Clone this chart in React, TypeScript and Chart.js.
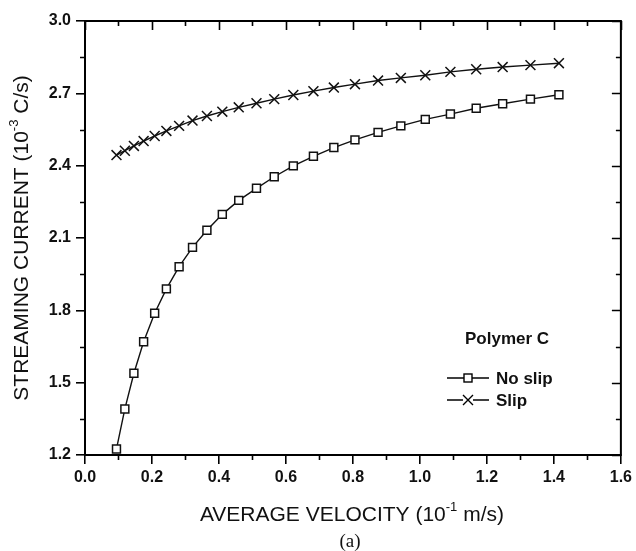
import React, { useEffect, useRef } from "react";
import { Chart, registerables } from "chart.js";

Chart.register(...registerables);

const velocity = [0.094, 0.119, 0.146, 0.175, 0.208, 0.243, 0.281, 0.321, 0.364, 0.41, 0.459, 0.512, 0.565, 0.622, 0.682, 0.743, 0.806, 0.875, 0.943, 1.016, 1.091, 1.168, 1.247, 1.33, 1.415];
const noSlip = [1.225, 1.391, 1.539, 1.67, 1.788, 1.889, 1.981, 2.061, 2.132, 2.198, 2.256, 2.306, 2.354, 2.399, 2.439, 2.475, 2.507, 2.538, 2.565, 2.592, 2.614, 2.638, 2.657, 2.676, 2.694];
const slip = [2.444, 2.462, 2.482, 2.502, 2.523, 2.544, 2.565, 2.587, 2.606, 2.624, 2.642, 2.659, 2.676, 2.693, 2.709, 2.724, 2.738, 2.753, 2.764, 2.775, 2.789, 2.8, 2.809, 2.817, 2.825];
const seriesNames = ["No slip", "Slip"];
const legendTitle = "Polymer C";
const xTitleParts: [string, boolean][] = [["AVERAGE VELOCITY (10", false], ["-1", true], [" m/s)", false]];
const yTitleParts: [string, boolean][] = [["STREAMING CURRENT (10", false], ["-3", true], [" C/s)", false]];
const panelLabel = "(a)";
const xMin = 0, xMax = 1.6, xStep = 0.2;
const yMin = 1.2, yMax = 3.0, yStep = 0.3;

const FONT = '"Liberation Sans", Arial, sans-serif';
const INK = "#111";

function drawParts(ctx: CanvasRenderingContext2D, parts: [string, boolean][], cx: number, cy: number, size: number) {
  const big = `${size}px ${FONT}`;
  const small = `${Math.round(size * 0.62)}px ${FONT}`;
  let total = 0;
  const widths = parts.map(([t, sup]) => {
    ctx.font = sup ? small : big;
    const w = ctx.measureText(t).width;
    total += w;
    return w;
  });
  let x = cx - total / 2;
  ctx.textBaseline = "middle";
  ctx.textAlign = "left";
  parts.forEach(([t, sup], i) => {
    ctx.font = sup ? small : big;
    ctx.fillText(t, x, sup ? cy - size * 0.38 : cy);
    x += widths[i];
  });
}

const decorPlugin = {
  id: "decor",
  afterDraw(chart: any) {
    const ctx: CanvasRenderingContext2D = chart.ctx;
    const { left, right, top, bottom } = chart.chartArea;
    const xs = chart.scales.x;
    const ys = chart.scales.y;
    ctx.save();
    ctx.strokeStyle = "#000";
    ctx.fillStyle = INK;
    ctx.lineWidth = 2;
    ctx.strokeRect(left, top, right - left, bottom - top);
    ctx.lineWidth = 1.6;
    ctx.beginPath();
    const nx = Math.round((xMax - xMin) / (xStep / 2));
    for (let i = 0; i <= nx; i++) {
      const v = xMin + (i * xStep) / 2;
      const px = Math.round(xs.getPixelForValue(v)) + 0.5;
      const major = i % 2 === 0;
      const len = major ? 9 : 5;
      ctx.moveTo(px, top);
      ctx.lineTo(px, top + len);
      if (!major) {
        ctx.moveTo(px, bottom);
        ctx.lineTo(px, bottom + len);
      }
    }
    const ny = Math.round((yMax - yMin) / (yStep / 2));
    for (let i = 0; i <= ny; i++) {
      const v = yMin + (i * yStep) / 2;
      const py = Math.round(ys.getPixelForValue(v)) + 0.5;
      const major = i % 2 === 0;
      const len = major ? 9 : 5;
      ctx.moveTo(right, py);
      ctx.lineTo(right - len, py);
      if (!major) {
        ctx.moveTo(left, py);
        ctx.lineTo(left - len, py);
      }
    }
    ctx.stroke();

    // axis titles
    ctx.fillStyle = INK;
    drawParts(ctx, xTitleParts, (left + right) / 2 - 1, 515, 21);
    ctx.save();
    ctx.translate(22, (top + bottom) / 2);
    ctx.rotate(-Math.PI / 2);
    drawParts(ctx, yTitleParts, 0, 0, 21);
    ctx.restore();

    ctx.font = '19px "Liberation Serif", "Times New Roman", serif';
    ctx.textAlign = "center";
    ctx.textBaseline = "middle";
    ctx.fillText(panelLabel, 350, 542);

    // legend
    ctx.font = `bold 17px ${FONT}`;
    ctx.textAlign = "left";
    ctx.fillText(legendTitle, 465, 339);
    const rows = [378, 400];
    ctx.lineWidth = 1.4;
    rows.forEach((ry, i) => {
      ctx.beginPath();
      ctx.moveTo(447, ry);
      ctx.lineTo(489, ry);
      ctx.stroke();
      if (i === 0) {
        ctx.fillStyle = "#fff";
        ctx.fillRect(464, ry - 4, 8, 8);
        ctx.strokeRect(464, ry - 4, 8, 8);
      } else {
        ctx.fillStyle = "#fff";
        ctx.fillRect(463, ry - 5, 10, 10);
        ctx.beginPath();
        ctx.moveTo(463, ry - 5);
        ctx.lineTo(473, ry + 5);
        ctx.moveTo(473, ry - 5);
        ctx.lineTo(463, ry + 5);
        ctx.stroke();
      }
      ctx.fillStyle = INK;
      ctx.fillText(seriesNames[i], 496, ry + 1);
    });
    ctx.restore();
  },
};

export default function App() {
  const ref = useRef<HTMLCanvasElement>(null);
  useEffect(() => {
    document.body.style.margin = "0";
    const canvas = ref.current!;
    const chart = new Chart(canvas, {
      type: "scatter",
      data: {
        datasets: [
          {
            label: seriesNames[0],
            data: velocity.map((x, i) => ({ x, y: noSlip[i] })),
            showLine: true,
            borderColor: "#111",
            borderWidth: 1.4,
            pointStyle: "rect",
            pointRadius: 5.6,
            pointBorderWidth: 1.5,
            pointBackgroundColor: "#fff",
            pointBorderColor: "#111",
          },
          {
            label: seriesNames[1],
            data: velocity.map((x, i) => ({ x, y: slip[i] })),
            showLine: true,
            borderColor: "#111",
            borderWidth: 1.4,
            pointStyle: "crossRot",
            pointRadius: 7,
            pointBorderWidth: 1.5,
            pointBackgroundColor: "#fff",
            pointBorderColor: "#111",
          },
        ],
      },
      options: {
        responsive: false,
        animation: false,
        events: [],
        layout: { padding: { top: 21, right: 13, left: 0, bottom: 0 } },
        plugins: { legend: { display: false }, tooltip: { enabled: false } },
        scales: {
          x: {
            type: "linear",
            min: xMin,
            max: xMax,
            afterFit: (s: any) => { s.height = 96; },
            ticks: {
              stepSize: xStep,
              padding: 4,
              color: INK,
              font: { family: FONT, size: 16, weight: "bold" },
              callback: (v: any) => Number(v).toFixed(1),
            },
            grid: { drawOnChartArea: false, drawTicks: true, tickLength: 9, color: "#000", lineWidth: 1.6 },
            border: { display: true, color: "#000", width: 2 },
          },
          y: {
            type: "linear",
            min: yMin,
            max: yMax,
            afterFit: (s: any) => { s.width = 85; },
            ticks: {
              stepSize: yStep,
              padding: 5,
              color: INK,
              font: { family: FONT, size: 16, weight: "bold" },
              callback: (v: any) => Number(v).toFixed(1),
            },
            grid: { drawOnChartArea: false, drawTicks: true, tickLength: 9, color: "#000", lineWidth: 1.6 },
            border: { display: true, color: "#000", width: 2 },
          },
        },
      } as any,
      plugins: [decorPlugin],
    });
    return () => chart.destroy();
  }, []);
  return (
    <div style={{ position: "fixed", left: 0, top: 0, width: 636, height: 551, background: "#fff" }}>
      <canvas ref={ref} width={636} height={551} />
    </div>
  );
}
